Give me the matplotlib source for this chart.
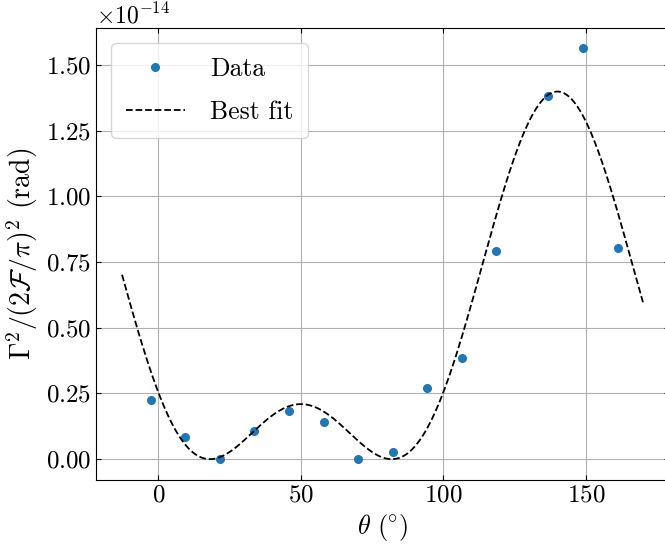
import numpy as np
import matplotlib
matplotlib.use("Agg")
import matplotlib.pyplot as plt

plt.rcParams['font.family'] = 'serif'
plt.rcParams['font.serif'] = ['cmr10']
plt.rcParams['mathtext.fontset'] = 'cm'
plt.rcParams['axes.formatter.use_mathtext'] = True
plt.rcParams['axes.unicode_minus'] = False

# Data (units of 1e-14)
theta_data = [-2.6, 9.4, 21.7, 33.7, 45.9, 58.0, 70.1, 82.3, 94.4, 106.5, 118.6, 136.7, 149.1, 161.1]
gamma_data = [0.225, 0.084, 0.0, 0.106, 0.185, 0.142, 0.0, 0.027, 0.272, 0.385, 0.792, 1.382, 1.563, 0.802]

# Best-fit model parameters: y = (c - A cos(2(theta - theta0)))^2
fit_c = 0.3625
fit_A = 0.82
fit_theta0 = 50.0
fit_range = (-12.7, 170.0)
scale = 1e-14

theta_fit = np.linspace(fit_range[0], fit_range[1], 400)
gamma_fit = (fit_c - fit_A * np.cos(np.deg2rad(2 * (theta_fit - fit_theta0)))) ** 2

W, H = 665, 547
fig = plt.figure(figsize=(W / 100, H / 100), dpi=100)
left, right, top, bottom = 96, 669, 27.7, 479.7
ax = fig.add_axes([left / W, (H - bottom) / H, (right - left) / W, (bottom - top) / H])

ax.plot(theta_data, np.array(gamma_data) * scale, 'o', color='#1f77b4', ms=5.5, label='Data')
ax.plot(theta_fit, gamma_fit * scale, '--', color='black', lw=1.3, label='Best fit')

ax.grid(True, color='#b0b0b0', lw=0.8)
ax.set_axisbelow(True)
ax.tick_params(direction='in', top=True, right=True, labelsize=18)
ax.yaxis.get_offset_text().set_fontsize(17)
ax.set_xticks([0, 50, 100, 150])
ax.set_yticks([0, 0.25e-14, 0.5e-14, 0.75e-14, 1.0e-14, 1.25e-14, 1.5e-14])
ax.set_xlabel(r'$\theta\ (\!^\circ\!)$', fontsize=19)
ax.set_ylabel(r'$\Gamma^2/(2\mathcal{F}/\pi)^2$ (rad)', fontsize=20)
ax.legend(loc='upper left', fontsize=18.5, handlelength=2.3, handletextpad=1.0,
          labelspacing=0.75, borderpad=0.55, borderaxespad=0.6)

fig.savefig('out.png', dpi=100)
